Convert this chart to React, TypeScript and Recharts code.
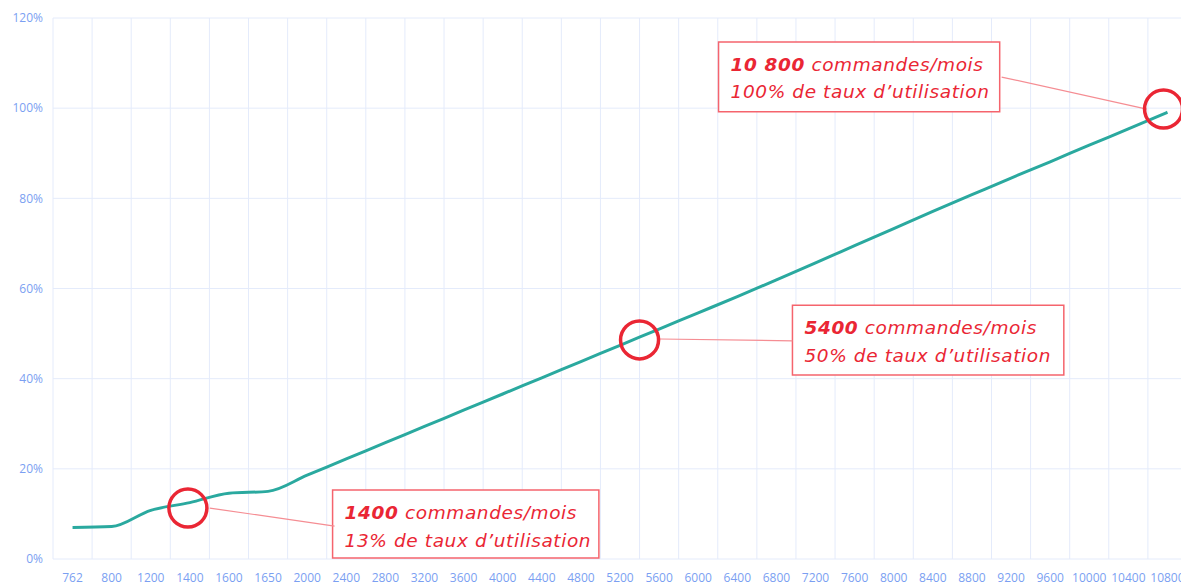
import { LineChart, Line, XAxis, YAxis, CartesianGrid, ReferenceDot, ReferenceLine, ReferenceArea } from 'recharts';

// commandes par mois (axe X)
const categories = [
  '762', '800', '1200', '1400', '1600', '1650', '2000', '2400', '2800', '3200',
  '3600', '4000', '4400', '4800', '5200', '5600', '6000', '6400', '6800', '7200',
  '7600', '8000', '8400', '8800', '9200', '9600', '10000', '10400', '10800',
];

// taux d'utilisation en %
const utilisation = [
  7.0, 7.2, 10.8, 12.5, 14.6, 15.0, 18.6, 22.2, 25.8, 29.4,
  33.0, 36.6, 40.2, 43.8, 47.4, 51.0, 54.6, 58.2, 61.9, 65.7,
  69.5, 73.3, 77.1, 80.8, 84.5, 88.1, 91.8, 95.4, 99.1,
];

const yTicks = [0, 20, 40, 60, 80, 100, 120];

const data = categories.map((label, idx) => ({ idx, label, value: utilisation[idx] }));

const RED = '#ea2634';
const BOX = '#f5646d';
const LINK = '#f58d93';
const FONT = '"Open Sans", sans-serif';
const NOTE_FONT = '"DejaVu Sans", sans-serif';

function note(bold: string, rest: string, second: string) {
  return (props: any) => {
    const vb = props.viewBox || {};
    const x = vb.x + 12;
    return (
      <g>
        <text x={x} y={vb.y + 22} fill={RED} fontSize={18.5} fontStyle="italic" fontFamily={NOTE_FONT} letterSpacing={0.6} dominantBaseline="central">
          <tspan fontWeight={700}>{bold}</tspan>
          <tspan fontWeight={400}> {rest}</tspan>
        </text>
        <text x={x} y={vb.y + 50} fill={RED} fontSize={18.5} fontStyle="italic" fontFamily={NOTE_FONT} letterSpacing={0.6} dominantBaseline="central">
          {second}
        </text>
      </g>
    );
  };
}

export default function App() {
  const n = categories.length;
  const bandLines = ({ offset }: any) => {
    const band = offset.width / n;
    return Array.from({ length: n + 1 }, (_, i) => offset.left + i * band);
  };

  return (
    <div style={{ position: 'fixed', left: 0, top: 0, width: 1181, height: 585, overflow: 'hidden', background: '#fff' }}>
      <LineChart width={1190} height={585} data={data} margin={{ top: 18, right: 3, bottom: 0, left: 0 }}>
        <CartesianGrid stroke="#e4ebfb" strokeWidth={1} verticalCoordinatesGenerator={bandLines} />
        <XAxis
          dataKey="idx"
          type="number"
          domain={[-0.5, n - 0.5]}
          ticks={data.map((d) => d.idx)}
          tickFormatter={(v) => categories[v]}
          interval={0}
          axisLine={false}
          tickLine={false}
          tickMargin={8}
          height={26}
          tick={{ fill: '#7b9ff2', fontSize: 12, fontFamily: FONT }}
        />
        <YAxis
          domain={[0, 120]}
          ticks={yTicks}
          tickFormatter={(v) => `${v}%`}
          axisLine={false}
          tickLine={false}
          tickMargin={4}
          width={53}
          tick={{ fill: '#7b9ff2', fontSize: 12, fontFamily: FONT }}
        />
        <Line
          type="monotone"
          dataKey="value"
          stroke="#2aa99f"
          strokeWidth={3}
          dot={false}
          isAnimationActive={false}
        />

        <ReferenceLine segment={[{ x: 3.51, y: 11.3 }, { x: 6.7, y: 7.3 }]} stroke={LINK} strokeWidth={1.2} ifOverflow="visible" />
        <ReferenceLine segment={[{ x: 15.02, y: 48.8 }, { x: 18.41, y: 48.4 }]} stroke={LINK} strokeWidth={1.2} ifOverflow="visible" />
        <ReferenceLine segment={[{ x: 23.76, y: 106.9 }, { x: 27.47, y: 99.8 }]} stroke={LINK} strokeWidth={1.2} ifOverflow="visible" />

        <ReferenceArea x1={6.65} x2={13.46} y1={0.2} y2={15.3} fill="#fff" fillOpacity={1} stroke={BOX} strokeWidth={1.5} ifOverflow="visible"
          label={note('1400', 'commandes/mois', '13% de taux d’utilisation')} />
        <ReferenceArea x1={18.41} x2={25.35} y1={40.8} y2={56.3} fill="#fff" fillOpacity={1} stroke={BOX} strokeWidth={1.5} ifOverflow="visible"
          label={note('5400', 'commandes/mois', '50% de taux d’utilisation')} />
        <ReferenceArea x1={16.52} x2={23.71} y1={99.2} y2={114.7} fill="#fff" fillOpacity={1} stroke={BOX} strokeWidth={1.5} ifOverflow="visible"
          label={note('10 800', 'commandes/mois', '100% de taux d’utilisation')} />

        <ReferenceDot x={2.95} y={11.3} r={19} fill="none" stroke={RED} strokeWidth={3.5} ifOverflow="visible" />
        <ReferenceDot x={14.5} y={48.6} r={19} fill="none" stroke={RED} strokeWidth={3.5} ifOverflow="visible" />
        <ReferenceDot x={27.9} y={99.8} r={19} fill="none" stroke={RED} strokeWidth={3.5} ifOverflow="visible" />
      </LineChart>
    </div>
  );
}
